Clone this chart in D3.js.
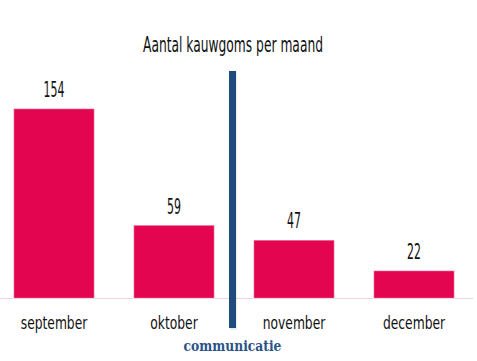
<!DOCTYPE html>
<html>
<head>
<meta charset="utf-8">
<script src="https://cdn.jsdelivr.net/npm/d3@7"></script>
<style>
  body { margin: 0; background: #fff; }
  .cond { font-family: "Liberation Sans Narrow", "DejaVu Sans Condensed", sans-serif; fill: #111; }
</style>
</head>
<body>
<script>
// ---------------------- data ----------------------
var months = ["september", "oktober", "november", "december"];
var counts = [154, 59, 47, 22];
var title = "Aantal kauwgoms per maand";
var markerAfter = "oktober";      // vertical marker sits between oktober and november
var markerLabel = "communicatie";

var W = 477, H = 361;

var svg = d3.select("body")
     .append("svg")
     .attr("width", W)
     .attr("height", H);

var x = d3.scaleBand()
     .domain(months)
     .range([-6, 474])
     .paddingInner(1 / 3)
     .paddingOuter(1 / 6);

var y = d3.scaleLinear()
     .domain([0, d3.max(counts)])
     .range([298, 109]);

var data = months.map(function (m, i) { return { month: m, value: counts[i] }; });

// ---------------------- title ----------------------
svg.append("text")
     .attr("class", "cond")
     .attr("transform", "translate(233,52) scale(0.65,1)")
     .attr("text-anchor", "middle")
     .style("font-size", "21px")
     .text(title);

// ---------------------- bars ----------------------
svg.selectAll("rect.bar")
     .data(data)
     .enter()
     .append("rect")
     .attr("class", "bar")
     .attr("x", function (d) { return x(d.month); })
     .attr("y", function (d) { return y(d.value); })
     .attr("width", x.bandwidth())
     .attr("height", function (d) { return y(0) - y(d.value); })
     .attr("fill", "#e30550")
     .attr("stroke", "#ee6a92")
     .attr("stroke-width", 0.6);

// value labels
svg.selectAll("text.val")
     .data(data)
     .enter()
     .append("text")
     .attr("class", "cond val")
     .attr("transform", function (d) {
          return "translate(" + (x(d.month) + x.bandwidth() / 2) + "," + (y(d.value) - 12) + ") scale(0.58,1)";
     })
     .attr("text-anchor", "middle")
     .style("font-size", "21px")
     .text(function (d) { return d.value; });

// ---------------------- x axis ----------------------
var xAxis = svg.append("g")
     .attr("transform", "translate(0," + y(0) + ")")
     .call(d3.axisBottom(x).tickSize(0).tickPadding(0));

xAxis.select(".domain")
     .attr("d", "M0,0.5H473")
     .attr("stroke", "#f6d3df");

xAxis.selectAll(".tick text")
     .attr("class", "cond")
     .attr("y", 0)
     .attr("dy", 0)
     .attr("transform", "translate(0,31) scale(0.76,1)")
     .style("font-size", "18px")
     .style("font-family", null);

// ---------------------- marker ----------------------
var mx = x(markerAfter) + x.bandwidth() + (x.step() - x.bandwidth()) / 2 - 1.5;

svg.append("rect")
     .attr("x", mx - 3.5 + 1)
     .attr("y", 72)
     .attr("width", 7)
     .attr("height", 258)
     .attr("fill", "#000")
     .attr("opacity", 0.08);

svg.append("rect")
     .attr("x", mx - 3.5)
     .attr("y", 71)
     .attr("width", 7)
     .attr("height", 257)
     .attr("fill", "#1f4a7c");

svg.append("text")
     .attr("transform", "translate(" + mx + ",351) scale(0.82,1)")
     .attr("text-anchor", "middle")
     .style("font-family", "'DejaVu Serif', serif")
     .style("font-weight", "bold")
     .style("font-size", "15px")
     .attr("fill", "#2b5286")
     .text(markerLabel);
</script>
</body>
</html>
